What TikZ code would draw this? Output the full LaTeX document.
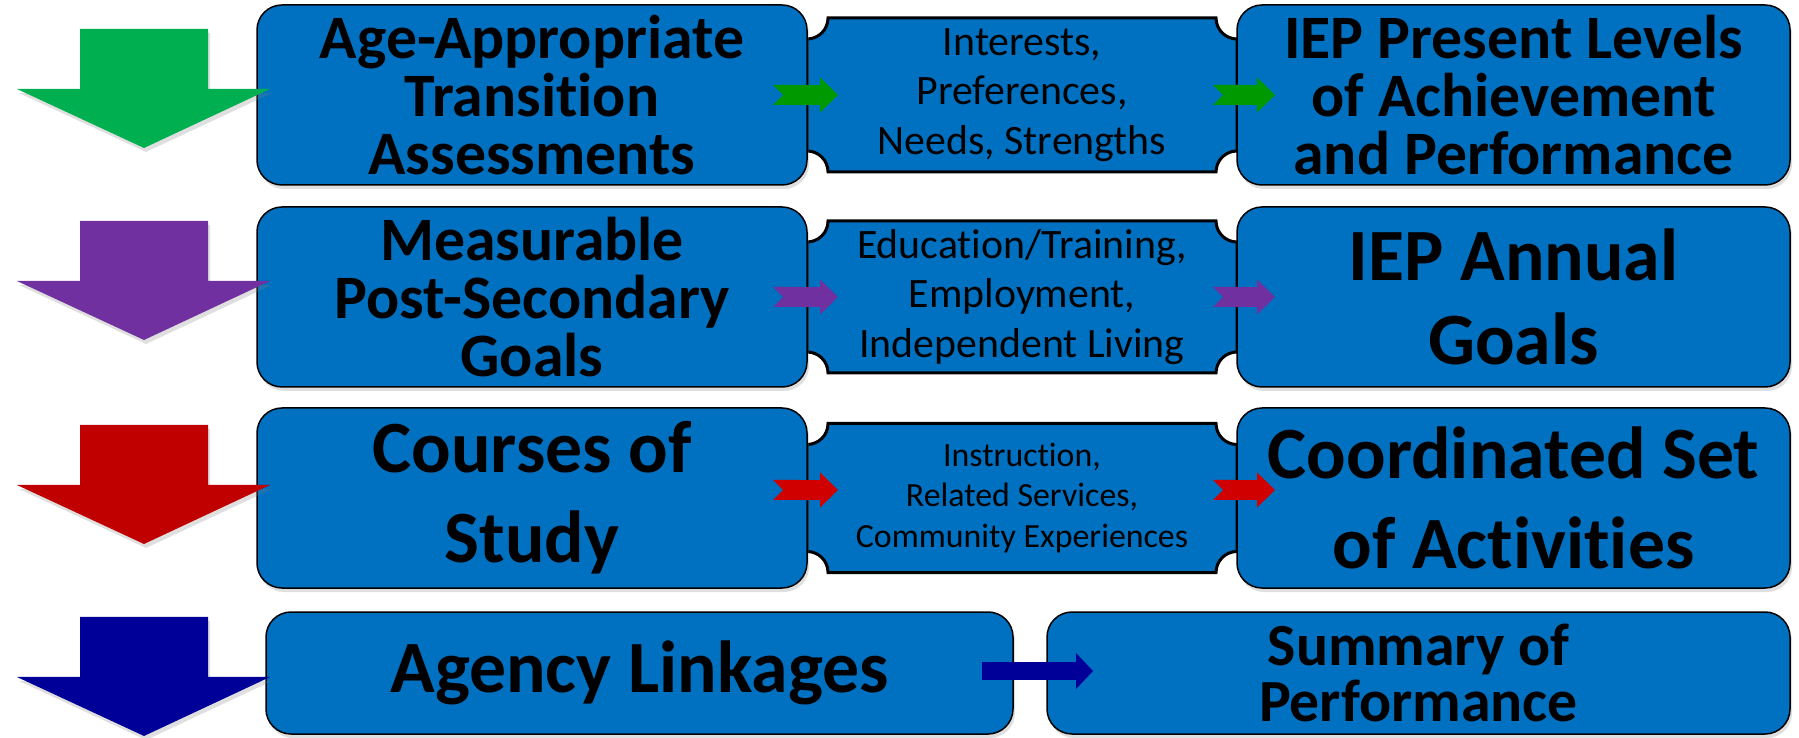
\documentclass[tikz,border=0pt]{standalone}
\usepackage{fontspec}
\setmainfont[Ligatures={NoCommon,NoContextual}]{Carlito}
\usetikzlibrary{arrows.meta,positioning,backgrounds,shadows}

\definecolor{boxblue}{HTML}{0070C0}
\definecolor{arrgreen}{HTML}{00B050}
\definecolor{arrpurple}{HTML}{7030A0}
\definecolor{arrred}{HTML}{C00000}
\definecolor{arrnavy}{HTML}{000099}
\definecolor{flowgreen}{HTML}{009900}
\definecolor{flowred}{HTML}{D00000}

\begin{document}
\begin{tikzpicture}[x=1bp,y=1bp]

\tikzstyle{block} = [rectangle, draw, line width=1.5bp, fill=boxblue,
    rounded corners=25bp, outer sep=0pt, inner sep=0pt,
    minimum width=550bp, minimum height=180bp, align=center,
    drop shadow={shadow xshift=2bp, shadow yshift=-4bp, opacity=.25},
    font=\bfseries\fontsize{62}{58}\selectfont]
\tikzstyle{big} = [font=\bfseries\fontsize{74}{90}\selectfont]
\tikzstyle{tag} = [rectangle, outer sep=0pt, inner sep=0pt,
    minimum width=430bp, minimum height=154bp, align=center,
    font=\fontsize{42}{50}\selectfont]
\tikzstyle{tagline} = [draw, line width=3bp, fill=boxblue]
\tikzstyle{flow} = [line width=20bp, {Triangle Cap[reversed]}-{Triangle[length=18bp,width=34bp]}]

\useasboundingbox (0,0) rectangle (1799,738);

\node [block] (aat) at (532,643) {Age-Appropriate\\Transition\\Assessments};
\node [tag, right=0pt of aat] (ipn) {Interests,\\Preferences,\\Needs, Strengths};
\node [block, right=0pt of ipn, minimum width=553bp] (plaap) {IEP Present Levels\\of Achievement\\and Performance};

\node [block, below=22bp of aat] (mpsg) {Measurable\\Post-Secondary\\Goals};
\node [tag, right=0pt of mpsg, minimum height=152bp] (eei) {Education/Training,\\Employment,\\Independent Living};
\node [block, right=0pt of eei, minimum width=553bp,
    font=\bfseries\fontsize{74}{84}\selectfont] (iag) {IEP Annual\\Goals};

\node [block, big, below=21bp of mpsg] (cos) {Courses of\\Study};
\node [tag, right=0pt of cos, minimum height=149bp,
    font=\fontsize{34}{41}\selectfont] (irc) {Instruction,\\Related Services,\\Community Experiences};
\node [block, big, right=0pt of irc, minimum width=553bp] (csa) {Coordinated Set\\of Activities};

\node [block, big, anchor=north west, minimum width=747bp, minimum height=122bp]
    (agl) at ([xshift=9bp, yshift=-24bp]cos.south west) {Agency Linkages};
\node [block, right=34bp of agl, minimum width=743bp, minimum height=122bp,
    font=\bfseries\fontsize{60}{57}\selectfont] (sop) {Summary of\\Performance};

% notched middle boxes
\begin{scope}[on background layer]
\foreach \t in {ipn, eei, irc}
  \path [tagline] ([xshift=21bp]\t.north west) -- ([xshift=-21bp]\t.north east)
    arc [start angle=180, end angle=270, radius=21bp] -- ([yshift=21bp]\t.south east)
    arc [start angle=90, end angle=180, radius=21bp] -- ([xshift=21bp]\t.south west)
    arc [start angle=0, end angle=90, radius=21bp] -- ([yshift=-21bp]\t.north west)
    arc [start angle=270, end angle=360, radius=21bp] -- cycle;
\end{scope}

% big down arrows
\foreach \c/\t in {arrgreen/709, arrpurple/517, arrred/313, arrnavy/121}
  \fill [\c, drop shadow={shadow xshift=2bp, shadow yshift=-4bp, opacity=.25}]
    (80,\t) -- ++(128,0) -- ++(0,-60) -- ++(62,0) -- ++(-126,-59)
    -- ++(-127,59) -- ++(63,0) -- cycle;

\draw [flow, flowgreen] ([xshift=-34bp]aat.east) -- ([xshift=31bp]aat.east);
\draw [flow, flowgreen] ([xshift=-24bp]ipn.east) -- ([xshift=38bp]ipn.east);
\draw [flow, arrpurple] ([xshift=-34bp]mpsg.east) -- ([xshift=31bp]mpsg.east);
\draw [flow, arrpurple] ([xshift=-24bp]eei.east) -- ([xshift=38bp]eei.east);
\draw [flow, flowred] ([xshift=-34bp,yshift=8bp]cos.east) -- ([xshift=31bp,yshift=8bp]cos.east);
\draw [flow, flowred] ([xshift=-24bp,yshift=8bp]irc.east) -- ([xshift=38bp,yshift=8bp]irc.east);
\draw [flow, arrnavy, line width=18bp, -{Triangle[length=17bp,width=35bp]}]
    ([xshift=-31bp,yshift=2bp]agl.east) -- ([xshift=80bp,yshift=2bp]agl.east);
\end{tikzpicture}
\end{document}
